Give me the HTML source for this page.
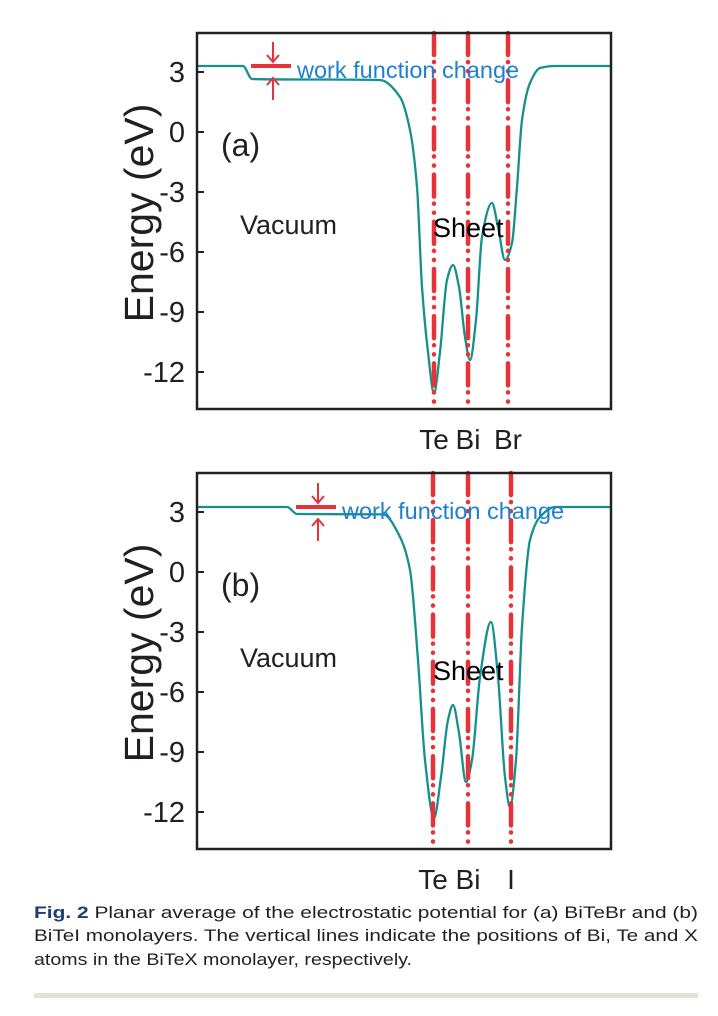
<!DOCTYPE html>
<html><head><meta charset="utf-8"><style>
html,body{margin:0;padding:0;background:#fff}
svg{display:block;font-family:"Liberation Sans",sans-serif}
</style></head><body>
<svg id="fig" width="718" height="1016" viewBox="0 0 718 1016">
<g id="pa"></g>
<g id="pb"></g>
<g font-size="17" fill="#231f20">
<text x="34" y="918" textLength="664" lengthAdjust="spacingAndGlyphs"><tspan font-weight="bold" fill="#1b3f74">Fig. 2</tspan>   Planar average of the electrostatic potential for (a) BiTeBr and (b)</text>
<text x="34" y="941" textLength="664" lengthAdjust="spacingAndGlyphs">BiTeI monolayers. The vertical lines indicate the positions of Bi, Te and X</text>
<text x="34" y="965" textLength="378" lengthAdjust="spacingAndGlyphs">atoms in the BiTeX monolayer, respectively.</text>
</g>
<rect x="34" y="993" width="664" height="5" fill="#e6e1d3"/>
</svg>
<script>
// data: z position (arbitrary units 0..414) and energy (eV)
const yTicks = [3, 0, -3, -6, -9, -12];
const zA = [0, 46, 55, 183, 203, 213, 220, 225, 231, 237, 243, 250, 256, 262, 268, 273, 279, 285, 295, 301, 308, 315, 320, 325, 333, 343, 358, 414];
const eA = [3.3, 3.3, 2.65, 2.6, 1.75, 0.1, -2.75, -7.75, -11, -13.05, -11, -7.4, -6.65, -7.75, -10.25, -11.4, -9.4, -5.25, -3.55, -4.75, -6.4, -5.55, -2.75, 0.6, 2.45, 3.2, 3.3, 3.3];
const zB = [0, 90, 100, 186, 203, 213, 221, 228, 237, 244, 251, 256, 262, 269, 275, 283, 294, 301, 308, 313, 319, 325, 333, 343, 358, 414];
const eB = [3.25, 3.25, 2.9, 2.88, 1.75, 0.1, -4.4, -9.4, -12.3, -10.25, -7.4, -6.65, -8.05, -10.5, -9.4, -5.25, -2.5, -5.25, -10.25, -11.75, -9.4, -2.75, 1.6, 2.75, 3.25, 3.25];
const atomsA = ['Te', 'Bi', 'Br'];
const atomZA = [237, 271, 311];
const atomsB = ['Te', 'Bi', 'I'];
const atomZB = [236, 271, 314];

const NS = 'http://www.w3.org/2000/svg';
function mk(p, tag, attrs, txt) {
  const e = document.createElementNS(NS, tag);
  for (const k in attrs) e.setAttribute(k, attrs[k]);
  if (txt !== undefined) e.textContent = txt;
  p.appendChild(e); return e;
}
function monotonePath(pts) {
  const n = pts.length, dx = [], m = [], t = [];
  for (let i = 0; i < n - 1; i++) { dx.push(pts[i+1][0] - pts[i][0]); m.push((pts[i+1][1] - pts[i][1]) / dx[i]); }
  t[0] = m[0]; t[n-1] = m[n-2];
  for (let i = 1; i < n - 1; i++) {
    if (m[i-1] * m[i] <= 0) t[i] = 0;
    else { const w1 = 2*dx[i] + dx[i-1], w2 = dx[i] + 2*dx[i-1]; t[i] = (w1 + w2) / (w1/m[i-1] + w2/m[i]); }
  }
  let d = `M${pts[0][0]},${pts[0][1]}`;
  for (let i = 0; i < n - 1; i++) {
    const h = dx[i] / 3;
    d += ` C${pts[i][0]+h},${pts[i][1]+t[i]*h} ${pts[i+1][0]-h},${pts[i+1][1]-t[i+1]*h} ${pts[i+1][0]},${pts[i+1][1]}`;
  }
  return d;
}
function panel(g, top, zs, es, atoms, atomZ, letter, wf) {
  const L = 197, R = 611, T = top, B = top + 376;
  const y0 = top + 99;
  const sx = z => L + z;
  const sy = e => y0 - e * 20;
  const t = mk(g, 'text', {x: 0, y: 0, transform: `translate(153,${top + 180}) rotate(-90)`, 'text-anchor': 'middle', 'font-size': 41, fill: '#231f20'}, 'Energy (eV)');
  
  
  yTicks.forEach(v => {
    const tl = mk(g, 'text', {x: 185, y: sy(v) + 10, 'text-anchor': 'end', 'font-size': 29, fill: '#231f20'}, String(v));
    
    
    const tk = mk(g, 'line', {x1: L, x2: L + 7, y1: sy(v), y2: sy(v), stroke: '#222', 'stroke-width': 2});
    
    
  });
  const pts = zs.map((z, i) => [sx(z), sy(es[i])]);
  const c = mk(g, 'path', {d: monotonePath(pts), fill: 'none', stroke: '#14918a', 'stroke-width': 2.3});
  
  
  atoms.forEach((a, i) => {
    const x = sx(atomZ[i]);
    const ln = mk(g, 'line', {x1: x, x2: x, y1: T, y2: B, stroke: '#e8323a', 'stroke-width': 4.5, 'stroke-dasharray': '22 7 0.1 9 0.1 9', 'stroke-linecap': 'round'});
    
    
    const lb = mk(g, 'text', {x: x, y: B + 40, 'text-anchor': 'middle', 'font-size': 28, fill: '#231f20'}, a);
    
    
  });
  const fr = mk(g, 'rect', {x: L, y: T, width: R - L, height: B - T, fill: 'none', stroke: '#222', 'stroke-width': 2.5});
  
  
  const pl = mk(g, 'text', {x: 221, y: top + 123, 'font-size': 32, fill: '#231f20'}, letter);
  
  
  const vl = mk(g, 'text', {x: 240, y: top + 201 + wf.vac, 'font-size': 27, fill: '#231f20'}, 'Vacuum');
  
  
  const sl = mk(g, 'text', {x: 433, y: top + 204 + wf.sh, 'font-size': 27, fill: '#000'}, 'Sheet');
  
  
  const wx = wf.x, wy = sy(wf.e);
  const m = mk(g, 'g', {stroke: '#e8323a', fill: 'none', 'stroke-width': 2});
  
  
  mk(m, 'line', {x1: wx - 22, x2: wx + 18, y1: wy, y2: wy, 'stroke-width': 4});
  mk(m, 'path', {d: `M${wx},${wy - 24} V${wy - 4} M${wx - 6},${wy - 11} L${wx},${wy - 4} L${wx + 6},${wy - 11}`});
  mk(m, 'path', {d: `M${wx},${wy + 34} V${wy + 12} M${wx - 6},${wy + 19} L${wx},${wy + 12} L${wx + 6},${wy + 19}`});
  const wt = mk(g, 'text', {x: wx + 24, y: wy + 12, 'font-size': 23.5, fill: '#1e7fd0'}, 'work function change');
  
  
}
panel(document.getElementById('pa'), 33, zA, eA, atomsA, atomZA, '(a)', {x: 273, e: 3.3, vac: 0, sh: 0});
panel(document.getElementById('pb'), 473, zB, eB, atomsB, atomZB, '(b)', {x: 318, e: 3.25, vac: -7, sh: 3});
</script>
</body></html>
